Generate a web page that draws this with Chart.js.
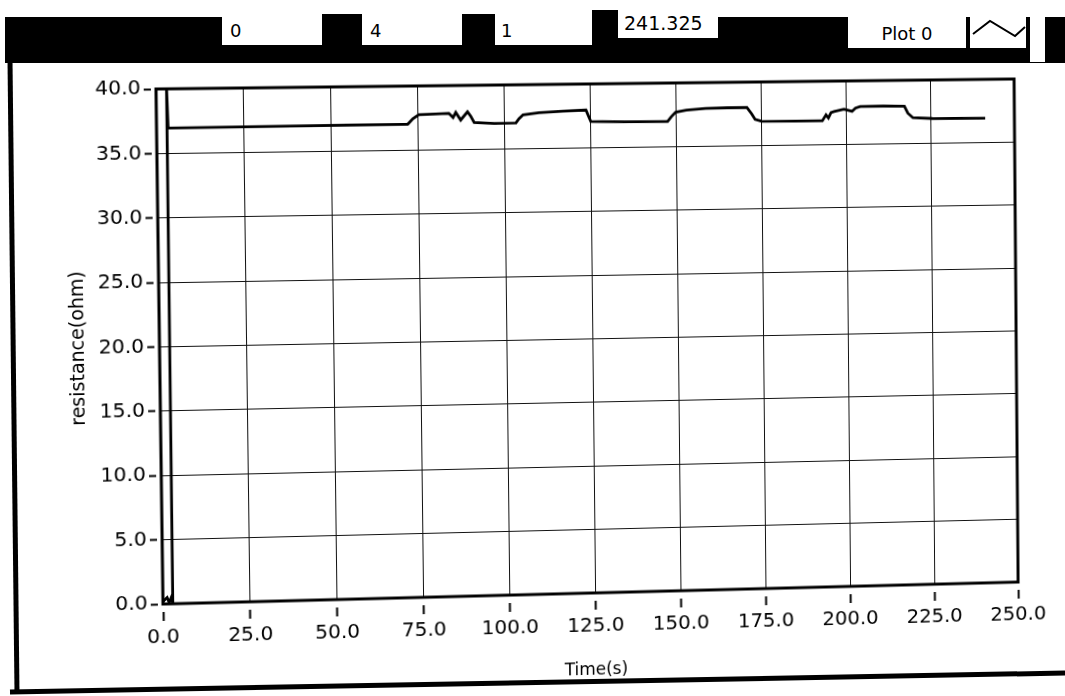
<!DOCTYPE html>
<html>
<head>
<meta charset="utf-8">
<title>resistance(ohm) vs Time(s)</title>
<script src="https://cdn.jsdelivr.net/npm/chart.js@4.4.1/dist/chart.umd.min.js"></script>
<style>
  html, body { margin: 0; padding: 0; background: #fff; }
  #page { position: relative; width: 1065px; height: 696px; overflow: hidden; background: #fff;
          font-family: "DejaVu Sans", Verdana, sans-serif; color: #000; }
  #chart { position: absolute; left: 0; top: 0; transform-origin: 0 0; }
  .blk { position: absolute; background: #000; }
  .box { position: absolute; background: #fff; font-size: 18px; line-height: 1; white-space: nowrap; }
  #frameLines { position: absolute; left: 0; top: 0; }
</style>
</head>
<body>
<div id="page">
  <!-- front-panel control strip -->
  <div class="blk" style="left:5px; top:17px; width:1060px; height:46px;"></div>
  <div class="blk" style="left:322px; top:14px; width:40px; height:20px;"></div>
  <div class="blk" style="left:462px; top:14px; width:33px; height:20px;"></div>
  <div class="blk" style="left:592px; top:10px; width:26px; height:20px;"></div>
  <div class="box" id="ctl0" style="left:222px; top:11px; width:100px; height:34px;"><span style="position:absolute; left:8px; top:11px;"></span></div>
  <div class="box" id="ctl1" style="left:362px; top:11px; width:100px; height:34px;"><span style="position:absolute; left:8px; top:11px;"></span></div>
  <div class="box" id="ctl2" style="left:495px; top:11px; width:97px; height:34px;"><span style="position:absolute; left:6px; top:11px;"></span></div>
  <div class="box" id="ctl3" style="left:618px; top:8px; width:100px; height:30px;"><span style="position:absolute; left:6px; top:6px; font-size:19px;"></span></div>
  <div class="box" id="legendName" style="left:848px; top:17px; width:118px; height:31px; text-align:center;"><span style="display:inline-block; margin-top:8px;"></span></div>
  <div class="box" style="left:970px; top:14px; width:56px; height:34px;">
    <svg width="56" height="34" viewBox="0 0 56 34">
      <polyline points="3,20 20,7 45,22 55,13" fill="none" stroke="#000" stroke-width="2"/>
    </svg>
  </div>
  <div class="box" style="left:1030px; top:14px; width:15px; height:48px;"></div>

  <canvas id="chart" width="1065" height="696"></canvas>

  <!-- panel border -->
  <svg id="frameLines" width="1065" height="696">
    <line x1="10" y1="60" x2="17" y2="693" stroke="#000" stroke-width="5"/>
    <line x1="10" y1="692" x2="1065" y2="673" stroke="#000" stroke-width="5"/>
  </svg>
</div>

<script>
// Control strip values and legend name
const controlValues = ["0", "4", "1", "241.325"];
const legendLabel = "Plot 0";

// Acquired trace: time (s) and resistance (ohm)
const timeS = [0.0, 1.2, 1.8, 2.4, 2.8, 3.0, 3.3, 40.0, 72.0, 73.5, 75.2, 80.0, 83.9, 85.1,
  85.9, 87.3, 89.3, 90.2, 91.2, 97.0, 103.3, 104.2, 105.4, 110.0, 117.0, 123.7, 124.4, 125.1,
  135.0, 147.5, 148.6, 149.9, 153.0, 158.7, 165.0, 170.8, 172.2, 173.2, 175.1, 185.0, 193.0,
  194.1, 194.8, 195.6, 196.5, 199.4, 201.8, 202.8, 204.2, 211.0, 217.3, 218.3, 219.8, 225.6, 241.3];
const resistanceOhm = [0.2, 0.5, 0.1, 0.5, 0.1, 40.0, 36.96, 37.0, 37.03, 37.45, 37.76, 37.8, 37.84, 37.5,
  37.9, 37.3, 37.94, 37.6, 37.1, 37.0, 37.02, 37.35, 37.65, 37.8, 37.9, 37.96, 37.5, 37.05,
  37.0, 36.98, 37.35, 37.7, 37.85, 37.97, 38.0, 38.0, 37.5, 37.06, 36.9, 36.88, 36.88,
  37.35, 37.1, 37.53, 37.6, 37.78, 37.6, 37.85, 37.97, 37.98, 37.95, 37.4, 37.03, 36.95, 36.93];

// Axis ticks
const xTickValues = [0, 25, 50, 75, 100, 125, 150, 175, 200, 225, 250];
const yTickValues = [0, 5, 10, 15, 20, 25, 30, 35, 40];
const xTitle = "Time(s)";
const yTitle = "resistance(ohm)";

// fill the control strip
["ctl0", "ctl1", "ctl2", "ctl3"].forEach((id, i) => {
  document.querySelector("#" + id + " span").textContent = controlValues[i];
});
document.querySelector("#legendName span").textContent = legendLabel;

const points = timeS.map((t, i) => ({ x: t, y: resistanceOhm[i] }));

// thick border around the plot area
const plotFrame = {
  id: "plotFrame",
  afterDraw(chart) {
    const { ctx, chartArea: a } = chart;
    ctx.save();
    ctx.strokeStyle = "#000";
    ctx.lineWidth = 3;
    ctx.strokeRect(a.left, a.top, a.right - a.left, a.bottom - a.top);
    ctx.restore();
  }
};

const tickFont = { family: "'DejaVu Sans', Verdana, sans-serif", size: 20 };
const xTitleFont = { family: "'DejaVu Sans', Verdana, sans-serif", size: 17 };
const yTitleFont = { family: "'DejaVu Sans', Verdana, sans-serif", size: 19 };

const chart = new Chart(document.getElementById("chart"), {
  type: "scatter",
  data: {
    datasets: [{
      label: legendLabel,
      data: points,
      showLine: true,
      borderColor: "#000",
      borderWidth: 2.8,
      pointRadius: 0,
      tension: 0,
      fill: false
    }]
  },
  options: {
    responsive: false,
    animation: false,
    devicePixelRatio: 1,
    layout: { padding: { left: 10, top: 89, right: 50, bottom: 0 } },
    plugins: { legend: { display: false }, tooltip: { enabled: false } },
    scales: {
      x: {
        type: "linear",
        min: 0,
        max: 250,
        afterBuildTicks: s => { s.ticks = xTickValues.map(v => ({ value: v })); },
        afterFit: s => { s.height = 92; },
        border: { display: false },
        grid: { color: "#111", lineWidth: 1, tickLength: 17, tickColor: "#000", tickWidth: 2,
                tickBorderDash: [0, 8, 9, 100] },
        ticks: { color: "#000", font: tickFont, padding: 5, maxRotation: 0, autoSkip: false,
                 callback: v => Number(v).toFixed(1) },
        title: { display: true, text: xTitle, color: "#000", font: xTitleFont,
                 padding: { top: 0, bottom: 3 } }
      },
      y: {
        type: "linear",
        min: 0,
        max: 40,
        afterBuildTicks: s => { s.ticks = yTickValues.map(v => ({ value: v })); },
        afterFit: s => { s.width = 146; },
        border: { display: false },
        grid: { color: "#111", lineWidth: 1, tickLength: 12, tickColor: "#000", tickWidth: 2,
                tickBorderDash: [7, 100] },
        ticks: { color: "#000", font: tickFont, padding: 3, autoSkip: false,
                 callback: v => Number(v).toFixed(1) },
        title: { display: true, text: yTitle, color: "#000", font: yTitleFont,
                 padding: { top: 56, bottom: 0 } }
      }
    }
  },
  plugins: [plotFrame]
});

// The printed page is slightly skewed: map the plot rectangle onto its skewed corners.
function solveHomography(src, dst) {
  const A = [], B = [];
  for (let i = 0; i < 4; i++) {
    const [x, y] = src[i], [u, v] = dst[i];
    A.push([x, y, 1, 0, 0, 0, -x * u, -y * u]); B.push(u);
    A.push([0, 0, 0, x, y, 1, -x * v, -y * v]); B.push(v);
  }
  const n = 8;
  for (let c = 0; c < n; c++) {
    let p = c;
    for (let r = c + 1; r < n; r++) if (Math.abs(A[r][c]) > Math.abs(A[p][c])) p = r;
    [A[c], A[p]] = [A[p], A[c]]; [B[c], B[p]] = [B[p], B[c]];
    for (let r = 0; r < n; r++) {
      if (r === c) continue;
      const f = A[r][c] / A[c][c];
      for (let k = c; k < n; k++) A[r][k] -= f * A[c][k];
      B[r] -= f * B[c];
    }
  }
  return B.map((b, i) => b / A[i][i]);
}

const ca = chart.chartArea;
const flat = [[ca.left, ca.top], [ca.right, ca.top], [ca.right, ca.bottom], [ca.left, ca.bottom]];
const skewed = [[156, 89], [1014, 79], [1018, 582], [163, 604]];
const [a, b, c, d, e, f, g, h] = solveHomography(flat, skewed);
document.getElementById("chart").style.transform =
  `matrix3d(${a},${d},0,${g},${b},${e},0,${h},0,0,1,0,${c},${f},0,1)`;
</script>
</body>
</html>
